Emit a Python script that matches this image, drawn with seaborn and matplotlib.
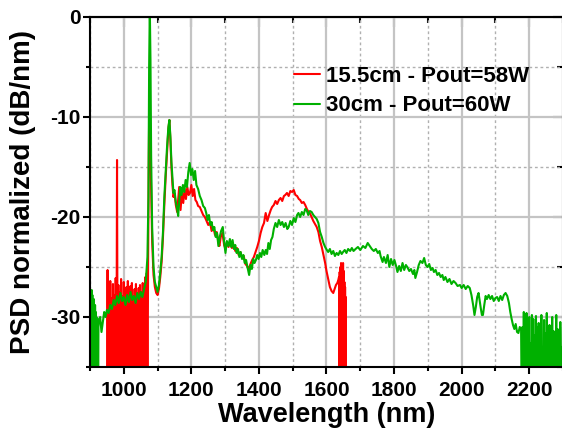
import matplotlib
matplotlib.use("Agg")
import pandas as pd
import matplotlib.pyplot as plt
import seaborn as sns
from matplotlib.ticker import MultipleLocator
from matplotlib.lines import Line2D

# Series labels and colours
labels = ["15.5cm - Pout=58W", "30cm - Pout=60W"]
colors = ["#ff0000", "#00b000"]
# the value -40 below marks the noise floor, which runs off the bottom of the axis

# ---- 30cm fibre (green) ----
green_left_wl = [900, 901, 902, 903, 904, 905, 906, 907, 908, 909, 910, 911, 912, 913,
                 914, 915, 916, 917, 918, 919, 920, 921, 922, 923, 924, 925, 926]
green_left_db = [-40, -28.5, -40, -27.5, -40, -27.3, -40, -27.8, -40, -28.5, -40, -28.2, -40, -29,
                 -40, -28.8, -40, -29.5, -40, -30, -40, -30.5, -40, -30.2, -40, -31, -30.5]

green_main_wl = [930, 934, 938, 942, 946, 950, 955, 960, 965, 970,
                 975, 980, 985, 990, 995, 1000, 1005, 1010, 1015, 1020,
                 1025, 1030, 1035, 1040, 1045, 1050, 1055, 1060, 1065, 1070,
                 1073, 1075, 1077, 1079, 1081, 1084, 1088, 1092, 1096, 1100,
                 1104, 1108, 1112, 1116, 1120, 1124, 1128, 1132, 1135, 1138,
                 1141, 1144, 1147, 1150, 1154, 1158, 1161, 1164, 1167, 1171,
                 1175, 1179, 1183, 1187, 1191, 1195, 1199, 1203, 1207, 1211,
                 1215, 1220, 1225, 1230, 1235, 1240, 1244, 1248, 1252, 1256,
                 1260, 1264, 1268, 1272, 1276, 1280, 1284, 1288, 1293, 1297,
                 1301, 1305, 1310, 1314, 1318, 1322, 1326, 1330, 1334, 1338,
                 1342, 1346, 1350, 1354, 1358, 1362, 1366, 1371, 1375, 1379,
                 1383, 1387, 1391, 1395, 1399, 1403, 1407, 1411, 1416, 1420,
                 1424, 1428, 1432, 1436, 1440, 1444, 1449, 1454, 1459, 1464,
                 1469, 1474, 1479, 1484, 1488, 1493, 1498, 1503, 1508, 1513,
                 1517, 1522, 1527, 1532, 1537, 1541, 1546, 1551, 1556, 1561,
                 1566, 1571, 1576, 1581, 1586, 1591, 1596, 1601, 1605, 1610,
                 1615, 1620, 1625, 1630, 1635, 1640, 1645, 1649, 1654, 1659,
                 1664, 1670, 1675, 1680, 1686, 1693, 1700, 1708, 1715, 1722,
                 1728, 1734, 1740, 1746, 1752, 1757, 1760, 1766, 1770, 1776,
                 1781, 1786, 1791, 1796, 1801, 1806, 1810, 1815, 1820, 1825,
                 1830, 1835, 1839, 1845, 1850, 1856, 1860, 1863, 1868, 1873,
                 1878, 1884, 1889, 1894, 1899, 1904, 1909, 1914, 1918, 1923,
                 1928, 1933, 1938, 1943, 1947, 1952, 1958, 1964, 1970, 1976,
                 1982, 1988, 1995, 2000, 2006, 2012, 2018, 2024, 2029, 2034,
                 2038, 2042, 2046, 2050, 2053, 2057, 2060, 2063, 2067, 2071,
                 2075, 2080, 2085, 2090, 2095, 2100, 2105, 2110, 2115, 2120,
                 2125, 2130, 2135, 2140, 2144, 2148, 2152, 2156, 2160, 2164,
                 2168, 2172, 2176]
green_main_db = [-30, -31.5, -30.5, -29.5, -30, -29.3, -29.6, -28.8, -29.2, -28.3,
                 -28.8, -27.9, -28.6, -27.6, -28.4, -28, -28.8, -27.8, -28.5, -27.5,
                 -28.3, -27.9, -28.6, -27.6, -28.2, -27.5, -28, -27.2, -26.5, -24,
                 -18, -5, 1, -4.3, -14, -21, -25, -26.5, -27, -27.5,
                 -26.8, -25.5, -24, -21.5, -18, -15.5, -13, -11, -10.3, -12,
                 -14.5, -16, -17.6, -17.3, -18.5, -19.2, -19.9, -18.5, -17, -17.8,
                 -16.8, -17.5, -16.3, -17, -15.5, -14.6, -15.8, -15.2, -16.3, -15.4,
                 -16.8, -17.2, -17.9, -18.3, -18.9, -19.1, -19.6, -20.3, -19.8, -20.8,
                 -20.5, -21.3, -21, -22, -21.6, -22.9, -22, -21.4, -21, -22.5,
                 -23.6, -22.4, -22.9, -22.2, -23, -22.3, -23.2, -22.8, -23.6, -23.2,
                 -24, -23.5, -24.2, -23.8, -24.6, -24.3, -25, -25.8, -24.8, -25.2,
                 -24.2, -24.6, -24.3, -23.8, -24.2, -23.6, -24, -23.3, -23.8, -23.3,
                 -23.7, -22.6, -23.2, -22.3, -22, -21.2, -20.6, -21, -20.3, -20.8,
                 -20.5, -21, -20.6, -21.2, -21, -20.4, -20.8, -20.1, -20.5, -19.8,
                 -19.6, -20, -19.5, -19.8, -19.2, -19.3, -19.8, -19.4, -19.5, -19.8,
                 -20, -20.2, -20.6, -21.5, -22, -22.6, -23, -23.3, -23.5, -23.2,
                 -23.7, -23.4, -23.9, -23.6, -23.8, -23.4, -23.7, -23.5, -23.3, -23.6,
                 -23.2, -23.4, -23.1, -23.4, -23.2, -23, -23.3, -22.9, -23.1, -22.6,
                 -22.9, -23.2, -23.4, -23.2, -23.6, -23.4, -23.9, -24.5, -24, -24.6,
                 -23.8, -25, -24.2, -24.8, -24.3, -24.9, -25.5, -24.9, -25.4, -24.6,
                 -25.3, -24.8, -25, -25.4, -25.2, -25.7, -25.3, -26.1, -25.5, -24.8,
                 -24.4, -24.6, -24.1, -24.8, -25, -24.7, -25.3, -25.1, -25.5, -25.3,
                 -25.8, -25.6, -26, -25.8, -26.3, -26, -26.5, -26.2, -26.7, -26.4,
                 -26.6, -26.9, -26.8, -27.1, -26.8, -27.2, -26.9, -27.1, -27.8, -28.8,
                 -29.8, -29, -28, -27.6, -28.3, -29.2, -29.8, -29.8, -28.8, -27.9,
                 -28.2, -27.8, -28.2, -27.9, -28.4, -28.1, -28, -28.4, -27.9, -28.3,
                 -27.8, -27.6, -27.9, -28.6, -29.5, -30.2, -30.8, -31.2, -30.7, -31.5,
                 -31.6, -31, -31.3]

green_tail_wl = [2178, 2180, 2182, 2184, 2186, 2188, 2190, 2192, 2194, 2196,
                 2198, 2200, 2202, 2204, 2206, 2208, 2210, 2212, 2214, 2216,
                 2218, 2220, 2222, 2224, 2226, 2228, 2230, 2232, 2234, 2236,
                 2238, 2240, 2242, 2244, 2246, 2248, 2250, 2252, 2254, 2256,
                 2258, 2260, 2262, 2264, 2266, 2268, 2270, 2272, 2274, 2276,
                 2278, 2280, 2282, 2284, 2286, 2288, 2290, 2292, 2294, 2296,
                 2298, 2300]
green_tail_db = [-40, -31, -40, -29.5, -40, -30.5, -40, -29.6, -40, -31.3,
                 -40, -30, -40, -32.6, -40, -29.8, -40, -30.2, -40, -31.8,
                 -40, -29.9, -40, -31, -40, -30.6, -40, -32.5, -40, -29.8,
                 -40, -33, -40, -30.3, -40, -31.6, -40, -29.6, -40, -32,
                 -40, -30.8, -40, -33.2, -40, -30, -40, -31.4, -40, -32.8,
                 -40, -29.8, -40, -31.2, -40, -32.2, -40, -30.5, -40, -33,
                 -40, -31]

# ---- 15.5cm fibre (red) ----
red_noise_wl = [950, 952, 954, 956, 958, 960, 962, 964, 966, 968,
                970, 972, 974, 976, 978, 980, 982, 984, 986, 988,
                990, 992, 994, 996, 998, 1000, 1002, 1004, 1006, 1008,
                1010, 1012, 1014, 1016, 1018, 1020, 1022, 1024, 1026, 1028,
                1030, 1032, 1034, 1036, 1038, 1040, 1042, 1044, 1046, 1048,
                1050, 1052, 1054, 1056, 1058, 1060, 1062, 1064, 1066, 1068,
                1070, 1072]
red_noise_db = [-40, -25.3, -40, -27.3, -40, -26.4, -40, -28.1, -40, -26.7,
                -40, -27.8, -40, -26.1, -40, -14.3, -40, -26.8, -40, -27.5,
                -40, -26.2, -40, -27.9, -40, -26.5, -40, -28.2, -40, -27,
                -40, -26.4, -40, -27.8, -40, -26.9, -40, -26.6, -40, -28,
                -40, -27.2, -40, -26.7, -40, -27.9, -40, -27.1, -40, -26.8,
                -40, -27.5, -40, -26.6, -40, -27.2, -40, -26, -40, -25.6,
                -40, -24.5]

red_main_wl = [1074, 1076, 1078, 1081, 1084, 1088, 1092, 1096, 1100, 1104,
               1108, 1112, 1116, 1120, 1124, 1128, 1132, 1135, 1138, 1141,
               1144, 1147, 1150, 1154, 1158, 1164, 1168, 1172, 1176, 1180,
               1184, 1188, 1192, 1196, 1200, 1204, 1208, 1212, 1216, 1220,
               1225, 1230, 1235, 1240, 1245, 1250, 1255, 1260, 1265, 1270,
               1275, 1280, 1283, 1287, 1292, 1297, 1301, 1305, 1310, 1315,
               1320, 1325, 1330, 1335, 1340, 1345, 1350, 1355, 1360, 1365,
               1370, 1375, 1380, 1385, 1390, 1395, 1400, 1405, 1410, 1415,
               1420, 1425, 1430, 1435, 1439, 1444, 1449, 1454, 1459, 1464,
               1469, 1474, 1478, 1483, 1488, 1493, 1498, 1503, 1508, 1513,
               1518, 1522, 1527, 1532, 1537, 1542, 1547, 1552, 1556, 1561,
               1566, 1571, 1576, 1581, 1586, 1591, 1596, 1600, 1605, 1610,
               1615, 1620, 1624, 1628, 1632, 1635]
red_main_db = [-14, -6.3, -12, -17, -22.5, -25.8, -27, -27.6, -27.8, -27.2,
               -26, -24.5, -22, -18.8, -16, -13.5, -11.2, -10.3, -12.3, -15,
               -16.8, -18, -17.6, -18.8, -19.5, -17, -19.3, -17.5, -18.6, -17.2,
               -18.2, -17, -17.8, -17.6, -16.8, -17.9, -17.2, -18.3, -18.5, -18.9,
               -19, -19.4, -19.8, -20, -20.4, -20.8, -20.5, -21.4, -21, -21.8,
               -21.5, -22.5, -22.9, -22, -21.6, -22.8, -23.2, -22.6, -23, -22.4,
               -23.1, -22.8, -23.4, -23.1, -23.8, -23.5, -24.1, -23.9, -24.7, -24.9,
               -25.2, -24.7, -24.3, -24, -23.5, -23, -22.4, -21.6, -21, -20.6,
               -19.6, -20.4, -19.8, -19.3, -19, -18.8, -18.4, -18.7, -18.3, -18.1,
               -18.4, -17.9, -17.8, -17.6, -17.9, -17.4, -17.5, -17.3, -17.8, -17.9,
               -18.2, -18.3, -18.6, -18.5, -18.8, -19.2, -19.5, -19.7, -20, -20.4,
               -20.7, -21, -21.5, -22.4, -23, -23.8, -24.6, -25.4, -26.2, -27,
               -27.4, -27.6, -27.2, -26.8, -26.6, -26.3]

red_cut_wl = [1637, 1638, 1639, 1640, 1641, 1642, 1643, 1644, 1645, 1646, 1647,
              1648, 1649, 1650, 1651, 1652, 1653, 1654, 1655, 1656, 1657, 1658]
red_cut_db = [-26, -40, -25.5, -40, -25, -40, -24.6, -40, -24.8, -40, -25.2,
              -40, -24.6, -40, -25.4, -40, -26.5, -40, -27, -40, -28, -40]

red_wl = red_noise_wl + red_main_wl + red_cut_wl
red_db = red_noise_db + red_main_db + red_cut_db
green_wl = green_left_wl + green_main_wl + green_tail_wl
green_db = green_left_db + green_main_db + green_tail_db

df = pd.concat([
    pd.DataFrame({"Wavelength": red_wl, "PSD": red_db, "Fiber": labels[0]}),
    pd.DataFrame({"Wavelength": green_wl, "PSD": green_db, "Fiber": labels[1]}),
])

sns.set_theme(style="ticks")
plt.rcParams["font.family"] = ["Liberation Sans", "DejaVu Sans"]
plt.rcParams["font.weight"] = "bold"
plt.rcParams["axes.unicode_minus"] = False
plt.rcParams["text.color"] = "black"
plt.rcParams["axes.labelcolor"] = "black"
plt.rcParams["xtick.color"] = "black"
plt.rcParams["ytick.color"] = "black"

fig = plt.figure(figsize=(5.62, 4.28), dpi=100)
ax = fig.add_axes([90 / 562, 1 - 367 / 428, 473 / 562, 350 / 428])

sns.lineplot(data=df, x="Wavelength", y="PSD", hue="Fiber", hue_order=labels,
             palette=colors, estimator=None, sort=False, linewidth=1.5,
             legend=False, ax=ax)

ax.set_xlim(900, 2300)
ax.set_ylim(-35, 0)
ax.xaxis.set_major_locator(MultipleLocator(200))
ax.xaxis.set_minor_locator(MultipleLocator(100))
ax.yaxis.set_major_locator(MultipleLocator(10))
ax.yaxis.set_minor_locator(MultipleLocator(5))

ax.grid(which="major", color="#c4c4c4", linewidth=1.6, linestyle="-")
ax.grid(which="minor", color="#b0b0b0", linewidth=1.0, linestyle=(0, (2, 2)))
ax.set_axisbelow(True)

for s in ax.spines.values():
    s.set_linewidth(1.5)
    s.set_color("black")

ax.tick_params(which="major", direction="out", length=5, width=1.5,
               labelsize=15, colors="black", pad=2)
ax.tick_params(which="minor", direction="out", length=3, width=1.5)
ax.tick_params(axis="x", which="major", pad=5)

# top and right axes carry inward ticks only
top = ax.secondary_xaxis("top")
top.xaxis.set_major_locator(MultipleLocator(200))
top.xaxis.set_minor_locator(MultipleLocator(100))
top.tick_params(which="major", direction="in", length=7, width=1.5, labeltop=False)
top.tick_params(which="minor", direction="in", length=4, width=1.5)
top.spines["top"].set_linewidth(1.5)
right = ax.secondary_yaxis("right")
right.yaxis.set_major_locator(MultipleLocator(10))
right.yaxis.set_minor_locator(MultipleLocator(5))
right.tick_params(which="major", direction="in", length=7, width=1.5, labelright=False)
right.tick_params(which="minor", direction="in", length=4, width=1.5)

ax.set_xlabel("Wavelength (nm)", fontsize=19.5, fontweight="bold", color="black")
ax.set_ylabel("PSD normalized (dB/nm)", fontsize=20, fontweight="bold", color="black")
ax.xaxis.set_label_coords(0.5, -0.1)
ax.yaxis.set_label_coords(-0.115, 0.5)

handles = [Line2D([], [], color=c, linewidth=1.5) for c in colors]
fig.legend(handles, labels, loc="upper left", bbox_to_anchor=(294 / 562, 1 - 66 / 428),
           frameon=False, handlelength=1.15, handletextpad=0.3,
           labelspacing=0.38, borderpad=0, borderaxespad=0,
           prop={"weight": "bold", "size": 16}, labelcolor="black")

fig.savefig("out.png", dpi=100)
